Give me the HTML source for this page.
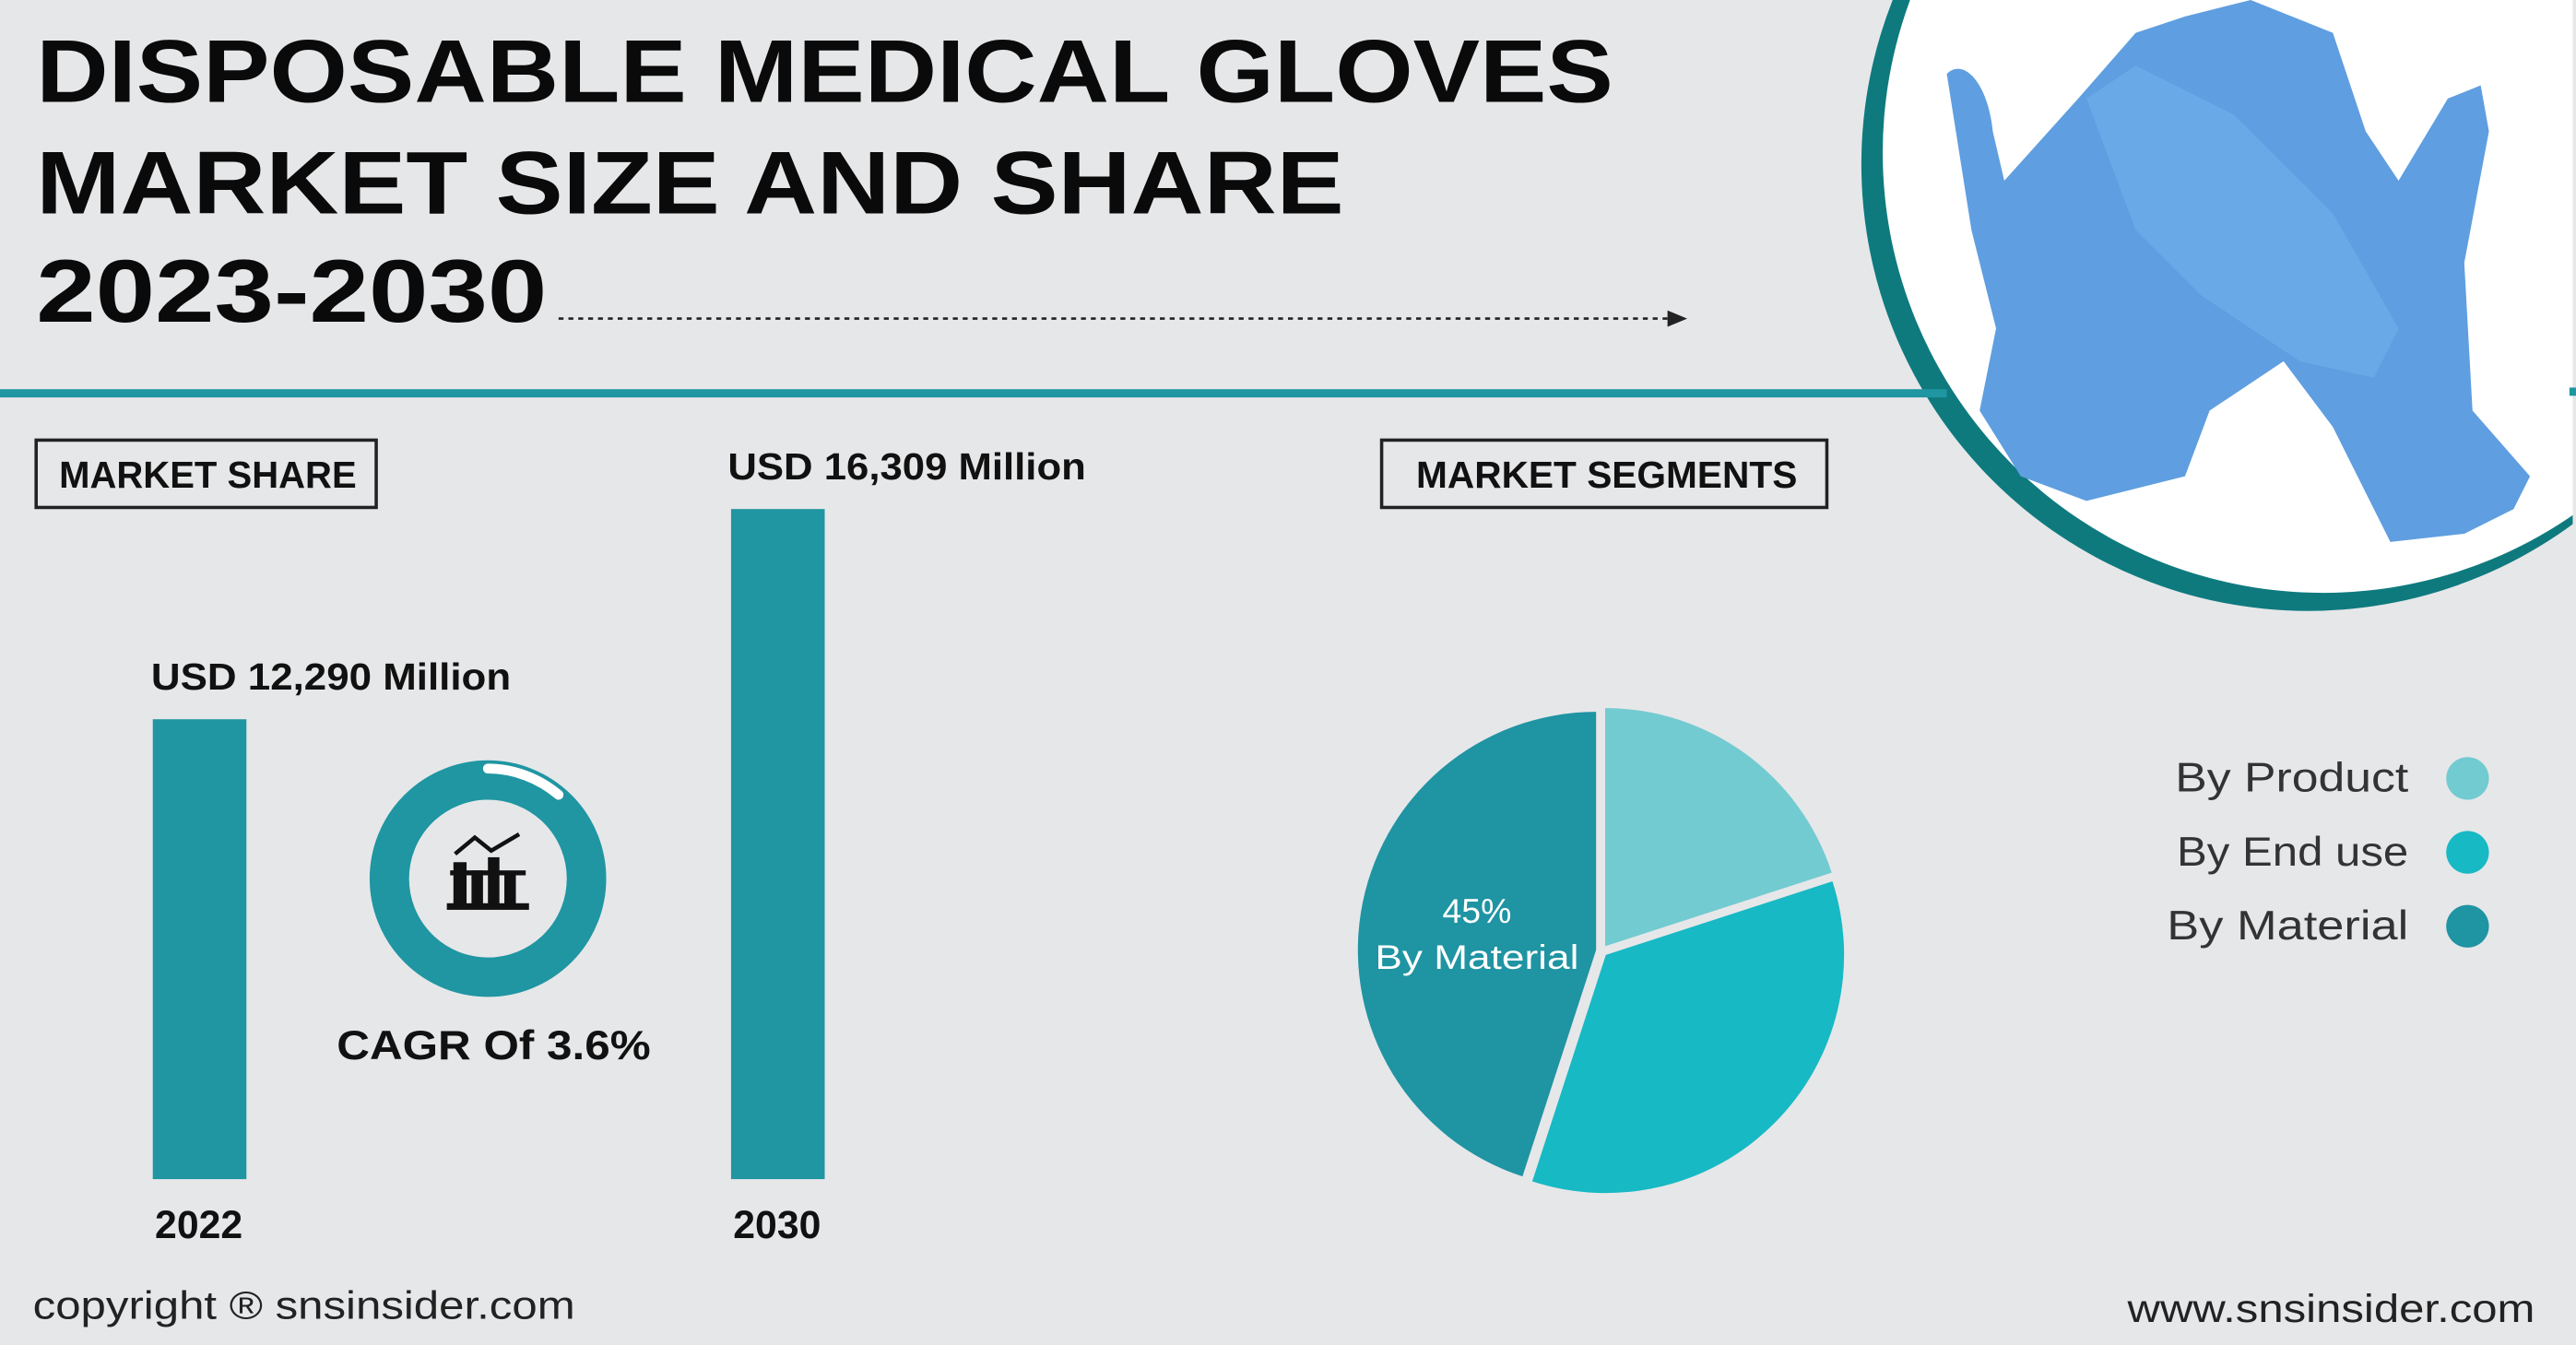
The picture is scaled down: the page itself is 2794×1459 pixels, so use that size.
<!DOCTYPE html>
<html><head><meta charset="utf-8"><style>
html,body{margin:0;padding:0;background:#e6e7e9;overflow:hidden}
svg{display:block}
text{font-family:"Liberation Sans",sans-serif}
</style></head><body>
<svg id="c" width="2794" height="1459" viewBox="0 0 1568 819" preserveAspectRatio="none">
<rect width="1568" height="819" fill="#e6e7e9"/>
<g>
<circle cx="1405" cy="100" r="272" fill="#0e7a7e"/>
<circle cx="1414" cy="93" r="268" fill="#ffffff"/>
<rect x="1566" y="0" width="2" height="819" fill="#e6e7e9"/>
<g fill="#5f9ee0">
<path d="M1185,45 C1195,35 1210,50 1213,80 L1220,110 L1265,60 L1300,20 L1330,10 L1370,0 L1420,20 L1440,80 L1460,110 L1490,60 L1510,52 L1515,80 L1500,160 L1505,250 L1540,290 L1530,310 L1500,325 L1455,330 L1420,260 L1390,220 L1345,250 L1330,290 L1270,305 L1230,290 L1205,250 L1215,200 L1200,140 Z"/>
<path d="M1270,60 L1300,40 L1360,70 L1420,130 L1460,200 L1445,230 L1400,220 L1340,180 L1300,140 Z" fill="#6aa9e8"/>
</g>
</g>
<g font-weight="bold" font-size="54" fill="#0a0a0a">
<text x="22" y="62" textLength="960" lengthAdjust="spacingAndGlyphs">DISPOSABLE MEDICAL GLOVES</text>
<text x="22" y="130" textLength="796" lengthAdjust="spacingAndGlyphs">MARKET SIZE AND SHARE</text>
<text x="22" y="196" textLength="311" lengthAdjust="spacingAndGlyphs">2023-2030</text>
</g>
<line x1="340" y1="194" x2="1015" y2="194" stroke="#222" stroke-width="1.5" stroke-dasharray="3,3"/>
<polygon points="1015,189 1027,194 1015,199" fill="#222"/>
<rect x="0" y="237" width="1185" height="5" fill="#1f96a2"/>
<rect x="1564" y="236" width="4" height="5" fill="#1f96a2"/>
<g>
<rect x="22" y="268" width="207" height="41" fill="none" stroke="#222" stroke-width="2"/>
<text x="36" y="297" textLength="181" lengthAdjust="spacingAndGlyphs" font-size="23" font-weight="bold" fill="#111">MARKET SHARE</text>
</g>
<g>
<rect x="841" y="268" width="271" height="41" fill="none" stroke="#222" stroke-width="2"/>
<text x="862" y="297" textLength="232" lengthAdjust="spacingAndGlyphs" font-size="23" font-weight="bold" fill="#111">MARKET SEGMENTS</text>
</g>
<g id="bars"></g>
<g>
<circle cx="297" cy="535" r="60" fill="none" stroke="#1f96a2" stroke-width="24"/>
<path d="M297,468 A67,67 0 0 1 340,484" fill="none" stroke="#fff" stroke-width="6" stroke-linecap="round"/>
<g fill="#111">
<rect x="274" y="530" width="46" height="3"/>
<rect x="276" y="525" width="8" height="28"/><rect x="287" y="530" width="7" height="23"/><rect x="297" y="522" width="7" height="31"/><rect x="307" y="532" width="7" height="21"/><rect x="272" y="550" width="50" height="4"/>
<polyline points="277,520 289,510 299,518 316,508" fill="none" stroke="#111" stroke-width="2.5"/>
</g>
<text x="205" y="645" textLength="191" lengthAdjust="spacingAndGlyphs" font-size="25" font-weight="bold" fill="#111">CAGR Of 3.6%</text>
</g>
<g id="pie"></g>
<g id="legend"></g>
<text x="20" y="803" textLength="330" lengthAdjust="spacingAndGlyphs" font-size="24" fill="#222">copyright ® snsinsider.com</text>
<text x="1295" y="805" textLength="248" lengthAdjust="spacingAndGlyphs" font-size="24" fill="#222">www.snsinsider.com</text>
</svg>
<script>
const years=["2022","2030"];
const values=[12290,16309];
const valueLabels=["USD 12,290 Million","USD 16,309 Million"];
const segments=["By Product","By End use","By Material"];
const shares=[20,35,45];
const NS="http://www.w3.org/2000/svg";
function mk(t,a,p){const e=document.createElementNS(NS,t);for(const k in a)e.setAttribute(k,a[k]);p.appendChild(e);return e;}
const base=718;
function yScale(v){return base-(-111.4+0.03185*v);}
const xs=[93,445];
const labelW=[219,218];
const bars=document.getElementById('bars');
years.forEach((y,i)=>{
 const top=yScale(values[i]);
 const r=mk('rect',{x:xs[i],y:top,width:57,height:base-top,fill:'#1f96a2'},bars);
 
 
 const l=mk('text',{x:xs[i]+(i?-2:-1),y:top-18,'font-size':23,'font-weight':'bold',fill:'#111',textLength:labelW[i],lengthAdjust:'spacingAndGlyphs'},bars);
 l.textContent=valueLabels[i];
 
 
 const t=mk('text',{x:xs[i]+28,y:754,'text-anchor':'middle','font-size':24,'font-weight':'bold',fill:'#111'},bars);
 t.textContent=y;
 
 
});
const colors=["#72cbd0","#17b9c4","#1f94a3"];
const pie=document.getElementById('pie');
const cx=975,cy=579,R=145;
let a0=0;
const tot=shares.reduce((a,b)=>a+b,0);
shares.forEach((s,i)=>{
 const a1=a0+s/tot*2*Math.PI, mid=(a0+a1)/2;
 const ox=3.5*Math.sin(mid), oy=-3.5*Math.cos(mid);
 const p=(a)=>[cx+ox+R*Math.sin(a),cy+oy-R*Math.cos(a)];
 const [x0,y0]=p(a0),[x1,y1]=p(a1);
 const d=`M${cx+ox},${cy+oy} L${x0},${y0} A${R},${R} 0 ${a1-a0>Math.PI?1:0} 1 ${x1},${y1} Z`;
 const e=mk('path',{d:d,fill:colors[i]},pie);
 
 
 a0=a1;
});
const pl=mk('text',{x:899,y:562,'text-anchor':'middle','font-size':21,fill:'#fff'},pie);
pl.textContent=shares[2]+'%';


const pl2=mk('text',{x:837,y:590,'font-size':21,fill:'#fff',textLength:124,lengthAdjust:'spacingAndGlyphs'},pie);
pl2.textContent='By Material';


const legendW=[142,141,147];
const lg=document.getElementById('legend');
segments.forEach((s,i)=>{
 const y=474+i*45;
 const t=mk('text',{x:1466-legendW[i],y:y+8,'font-size':25,fill:'#333',textLength:legendW[i],lengthAdjust:'spacingAndGlyphs'},lg);
 t.textContent=s;
 
 
 const c=mk('circle',{cx:1502,cy:y,r:13,fill:colors[i]},lg);
 
 
});
</script>
</body></html>
